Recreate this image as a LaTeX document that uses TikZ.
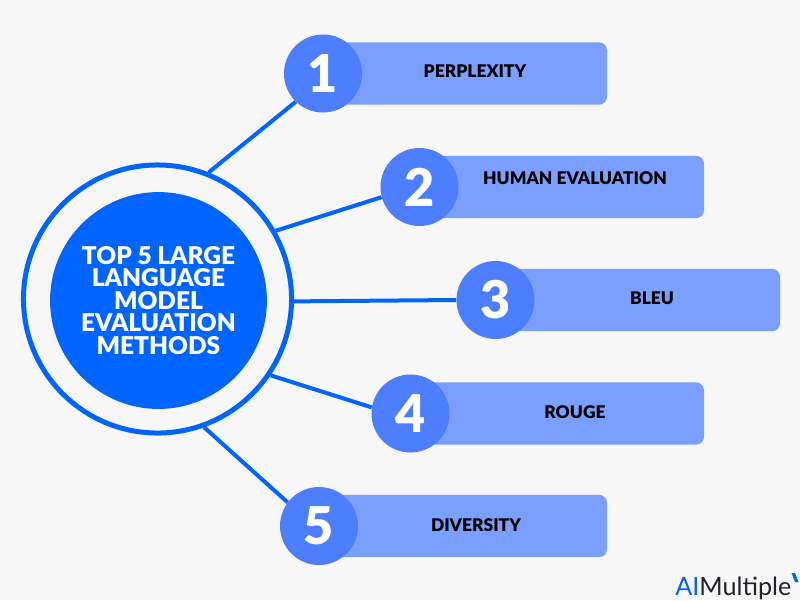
\documentclass[tikz,border=0pt]{standalone}
\usepackage{fontspec}
\setmainfont{Lato}[BoldFont={Lato Black}]
\definecolor{paper}{HTML}{F7F7F7}
\definecolor{hubblue}{HTML}{0064FF}
\definecolor{badgeblue}{HTML}{4D7EFF}
\definecolor{barblue}{HTML}{7B9FFF}
\definecolor{logoink}{HTML}{1F2328}

\begin{document}
\begin{tikzpicture}[x=0.025cm,y=-0.025cm,
 hub ring/.style={circle,draw=hubblue,line width=0.125cm,minimum size=6.7cm,inner sep=0},
 hub disk/.style={circle,fill=hubblue,minimum size=5.42cm,inner sep=0,text=white,align=center,
   font=\fontsize{17.4}{16}\selectfont\bfseries},
 bar node/.style={rectangle,fill=barblue,rounded corners=0.2cm,minimum height=1.56cm,inner sep=0},
 main node/.style={circle,fill=badgeblue,minimum size=1.95cm,inner sep=0,text=white,
   font=\fontsize{37}{37}\selectfont\bfseries},
 bar text/.style={text=black,inner sep=0,font=\fontsize{12.4}{13}\selectfont\bfseries},
 spoke/.style={draw=hubblue,line width=0.1cm}]

  \fill[paper] (0,0) rectangle (800,600);

  \node[hub ring] (ring) at (157.5,299) {};
  \node[hub disk] (hub) at (158.5,300.5) {TOP 5 LARGE\\LANGUAGE\\MODEL\\EVALUATION\\METHODS};

  % number/badge x,y/bar right/label x,y/label
  \foreach \i/\x/\y/\r/\tx/\ty/\t in {1/323/73.5/607/475/71/PERPLEXITY, 2/419.5/187/704/575/178/HUMAN EVALUATION,
    3/495.5/300/780/652/298.5/BLEU, 4/410.5/413.5/704/575/412.5/ROUGE, 5/319/526/607/476/525.5/DIVERSITY} {
   \node[bar node,minimum width=(\r-\x)*0.025cm] (bar\i) at ({(\x+\r)/2},\y) {};
   \node[main node] (\i) at (\x,\y) {\i};
   \node[bar text] (label\i) at (\tx,\ty) {\t};}

  \foreach \s/\a/\b in {1/68.5/226.7, 2/30/195, 3/359.6/180, 4/326/171, 5/290/143} {
   \path[spoke] (ring.\a) -- (\s.\b);}

  \node[inner sep=0,anchor=base west,font=\fontsize{17.9}{18}\selectfont] (logo) at (675,595)
    {\textcolor{hubblue}{AI}\textcolor{logoink}{Multiple}};
  \fill[hubblue] (791.5,573) -- (795,573) -- (798.5,582) -- (795,582) -- cycle;
\end{tikzpicture}
\end{document}
